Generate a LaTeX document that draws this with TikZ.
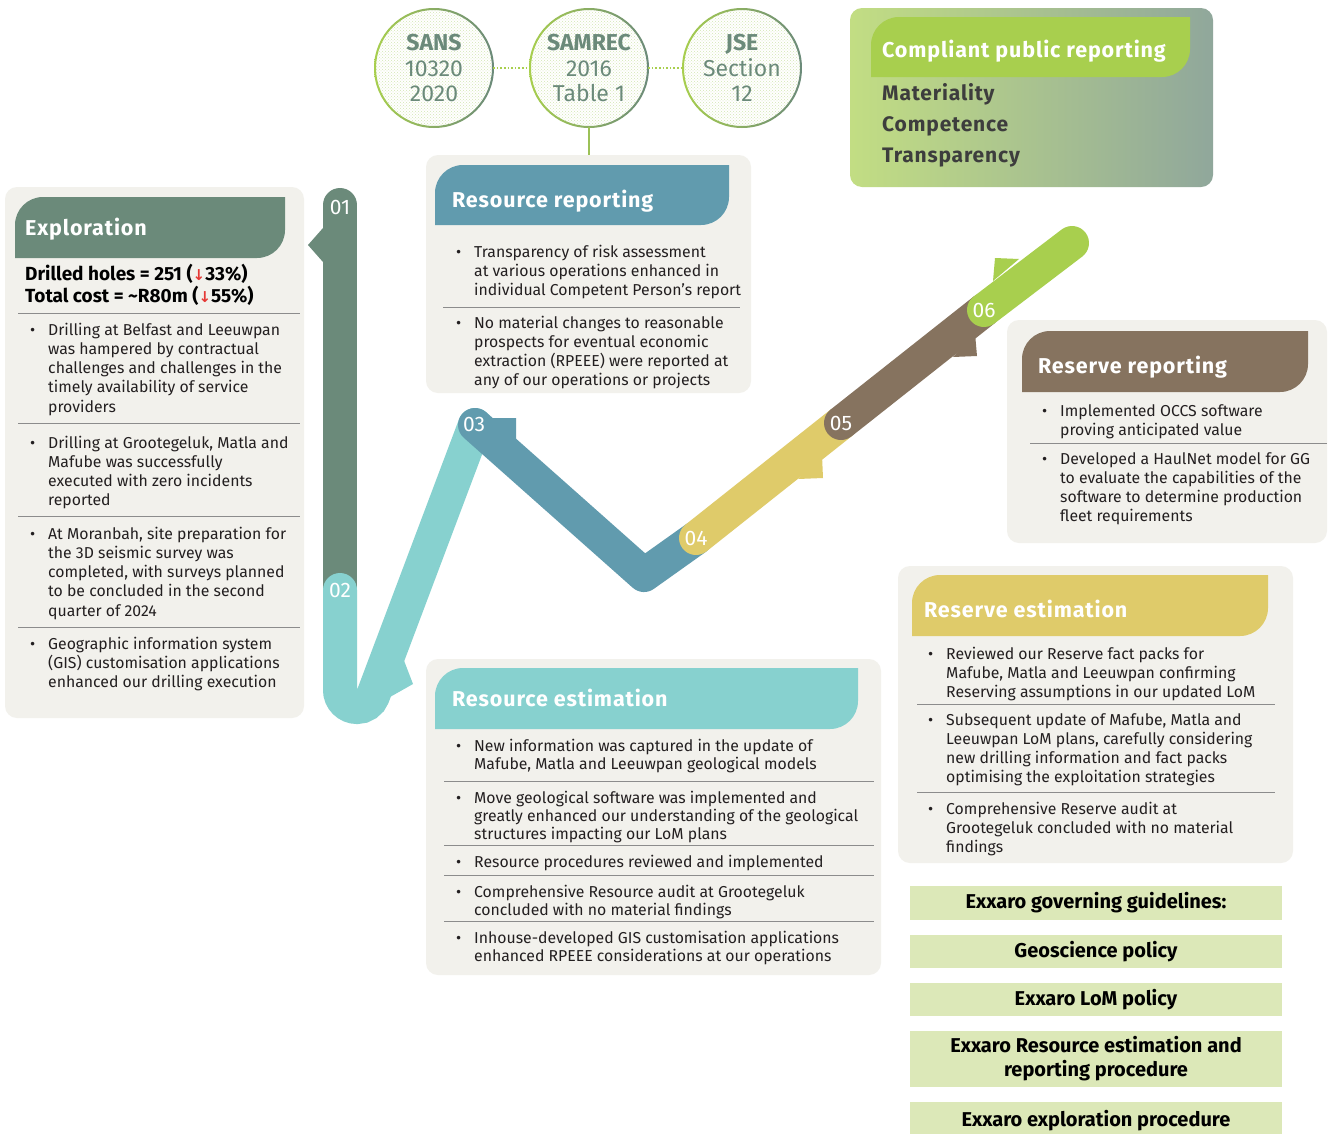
\documentclass[tikz,border=0pt]{standalone}
\usepackage{fontspec}
\setmainfont{Fira Sans}
\newfontfamily\headfont[LetterSpace=4]{Fira Sans}
\newfontfamily\arrowfont{DejaVu Sans}
\usetikzlibrary{patterns}

\definecolor{panelbg}{HTML}{F2F1EC}
\definecolor{exgreen}{HTML}{6B8A7A}
\definecolor{steel}{HTML}{619BAE}
\definecolor{aqua}{HTML}{87D1CF}
\definecolor{mustard}{HTML}{DFCB6A}
\definecolor{umber}{HTML}{86735F}
\definecolor{lime}{HTML}{A8CF4E}
\definecolor{guidefill}{HTML}{DCE8B8}
\definecolor{rulegrey}{HTML}{8C8C8C}
\definecolor{bodytext}{HTML}{231F20}
\definecolor{listgrey}{HTML}{3D3D3D}
\definecolor{sealdot}{HTML}{D3E6B3}
\definecolor{downred}{HTML}{E53935}

\newcommand{\bul}{\llap{\textbullet\hspace{13pt}}}
\newcommand{\down}{{\arrowfont\bfseries\color{downred}\fontsize{15}{15}\selectfont ↓}}
\newcommand{\lines}[1]{\begin{tabular}[t]{@{}l@{}}#1\end{tabular}}

\begin{document}
\begin{tikzpicture}[x=1pt, y=-1pt,
  panel/.style={fill=panelbg, rounded corners=12pt},
  rule/.style={draw=rulegrey, line width=1pt},
  title/.style={anchor=base west, inner sep=0pt, text=white, font=\headfont\fontsize{21.5}{24}\selectfont\bfseries},
  item/.style={anchor=base west, inner sep=0pt, text=bodytext, font=\fontsize{15.8}{19.3}\selectfont},
  seg/.style={line width=34pt, line cap=round},
  stepnum/.style={inner sep=0pt, text=white, font=\fontsize{21}{22}\selectfont},
  seal/.style={circle, minimum size=118pt, inner sep=0pt, fill=white, align=center, text=exgreen, font=\fontsize{23}{25.5}\selectfont},
  guide/.style={fill=guidefill, minimum width=372pt, inner sep=0pt, align=center, text=black, font=\fontsize{20}{24}\selectfont\bfseries}]

\useasboundingbox (0,0) rectangle (1331,1133);
\fill[white] (0,0) rectangle (1331,1133);

% standards
\node[seal] (sans) at (434,68) {};
\node[seal] (samrec) at (589,68) {};
\node[seal] (jse) at (742,68) {};
\fill[pattern=crosshatch dots, pattern color=sealdot] (sans.center) circle[radius=58];
\fill[pattern=crosshatch dots, pattern color=sealdot] (samrec.center) circle[radius=58];
\fill[pattern=crosshatch dots, pattern color=sealdot] (jse.center) circle[radius=58];
\node[seal, fill=none] (sanstext) at (sans) {\textbf{SANS}\\10320\\2020};
\node[seal, fill=none] (samrectext) at (samrec) {\textbf{SAMREC}\\2016\\Table 1};
\node[seal, fill=none] (jsetext) at (jse) {\textbf{JSE}\\Section\\12};
\shade[left color=lime, right color=exgreen, even odd rule] (sans.center) circle[radius=60] circle[radius=58];
\shade[left color=lime, right color=exgreen, even odd rule] (samrec.center) circle[radius=60] circle[radius=58];
\shade[left color=lime, right color=exgreen, even odd rule] (jse.center) circle[radius=60] circle[radius=58];
\draw[lime, line width=1.6pt, dotted] (sans) -- (samrec);
\draw[lime, line width=1.6pt, dotted] (samrec) -- (jse);
\coordinate (rreptop) at (589,155);
\draw[lime!80!exgreen, line width=1.6pt] (samrec.south) -- (rreptop);

% compliant public reporting
\shade[left color=lime!70!white, right color=exgreen!75!white, rounded corners=12pt] (850,8) rectangle (1213,187);
\fill[lime] (871,77) -- (871,45) arc[start angle=180, end angle=270, radius=28] -- (1190,17) -- (1190,49) arc[start angle=0, end angle=90, radius=28] -- cycle;
\node[title] (cpr) at (882,57) {Compliant public reporting};
\node[anchor=base west, inner sep=0pt, text=listgrey, font=\headfont\fontsize{21}{31}\selectfont\bfseries] (cprlist) at (882,100) {\lines{Materiality\\Competence\\Transparency}};

% Exploration
\fill[panel] (5,187) rectangle (304,718);
\fill[exgreen] (15,258) -- (15,225) arc[start angle=180, end angle=270, radius=28] -- (285,197) -- (285,230) arc[start angle=0, end angle=90, radius=28] -- cycle;
\node[title] (expl) at (25,235) {Exploration};
\node[anchor=base west, inner sep=0pt, text=black, font=\fontsize{19}{22}\selectfont\bfseries] (stats) at (25,280) {\lines{Drilled holes = 251 (\down33\%)\\Total cost = \textasciitilde R80m (\down55\%)}};
\draw[rule] (18,313) -- (300,313);
\draw[rule] (18,423) -- (300,423);
\draw[rule] (18,516) -- (300,516);
\draw[rule] (18,627) -- (300,627);
\node[item] (expa) at (48,335) {\lines{\bul Drilling at Belfast and Leeuwpan\\was hampered by contractual\\challenges and challenges in the\\timely availability of service\\providers}};
\node[item] (expb) at (48,448) {\lines{\bul Drilling at Grootegeluk, Matla and\\Mafube was successfully\\executed with zero incidents\\reported}};
\node[item] (expc) at (48,539) {\lines{\bul At Moranbah, site preparation for\\the 3D seismic survey was\\completed, with surveys planned\\to be concluded in the second\\quarter of 2024}};
\node[item] (expd) at (48,649) {\lines{\bul Geographic information system\\(GIS) customisation applications\\enhanced our drilling execution}};

% Resource reporting
\fill[panel] (426,155) rectangle (751,393);
\fill[steel] (435,225) -- (435,193) arc[start angle=180, end angle=270, radius=28] -- (729,165) -- (729,197) arc[start angle=0, end angle=90, radius=28] -- cycle;
\node[title] (rrep) at (452,207) {Resource reporting};
\draw[rule] (443,307) -- (740,307);
\node[item] (rrepa) at (474,257) {\lines{\bul Transparency of risk assessment\\at various operations enhanced in\\individual Competent Person’s report}};
\node[item] (rrepb) at (474,328) {\lines{\bul No material changes to reasonable\\prospects for eventual economic\\extraction (RPEEE) were reported at\\any of our operations or projects}};

% Resource estimation
\fill[panel] (426,659) rectangle (881,975);
\fill[aqua] (435,729) -- (435,696) arc[start angle=180, end angle=270, radius=28] -- (858,668) -- (858,701) arc[start angle=0, end angle=90, radius=28] -- cycle;
\node[title] (rest) at (452,706) {Resource estimation};
\draw[rule] (444,781) -- (874,781);
\draw[rule] (444,845) -- (874,845);
\draw[rule] (444,875) -- (874,875);
\draw[rule] (444,921) -- (874,921);
\node[item, font=\fontsize{15.8}{18.3}\selectfont] (resta) at (474,751) {\lines{\bul New information was captured in the update of\\Mafube, Matla and Leeuwpan geological models}};
\node[item, font=\fontsize{15.8}{18.3}\selectfont] (restb) at (474,803) {\lines{\bul Move geological software was implemented and\\greatly enhanced our understanding of the geological\\structures impacting our LoM plans}};
\node[item, font=\fontsize{15.8}{18.3}\selectfont] (restc) at (474,867) {\lines{\bul Resource procedures reviewed and implemented}};
\node[item, font=\fontsize{15.8}{18.3}\selectfont] (restd) at (474,897) {\lines{\bul Comprehensive Resource audit at Grootegeluk\\concluded with no material findings}};
\node[item, font=\fontsize{15.8}{18.3}\selectfont] (reste) at (474,943) {\lines{\bul Inhouse-developed GIS customisation applications\\enhanced RPEEE considerations at our operations}};

% Reserve reporting
\fill[panel] (1007,320) rectangle (1327,543);
\fill[umber] (1022,392) -- (1022,359) arc[start angle=180, end angle=270, radius=28] -- (1308,331) -- (1308,364) arc[start angle=0, end angle=90, radius=28] -- cycle;
\node[title] (vrep) at (1038,373) {Reserve reporting};
\draw[rule] (1030,443) -- (1327,443);
\node[item] (vrepa) at (1060,416) {\lines{\bul Implemented OCCS software\\proving anticipated value}};
\node[item] (vrepb) at (1060,464) {\lines{\bul Developed a HaulNet model for GG\\to evaluate the capabilities of the\\software to determine production\\fleet requirements}};

% Reserve estimation
\fill[panel] (898,566) rectangle (1293,863);
\fill[mustard] (912,636) -- (912,603) arc[start angle=180, end angle=270, radius=28] -- (1268,575) -- (1268,608) arc[start angle=0, end angle=90, radius=28] -- cycle;
\node[title] (vest) at (924,617) {Reserve estimation};
\draw[rule] (917,704) -- (1275,704);
\draw[rule] (917,792) -- (1275,792);
\node[item] (vesta) at (946,659) {\lines{\bul Reviewed our Reserve fact packs for\\Mafube, Matla and Leeuwpan confirming\\Reserving assumptions in our updated LoM}};
\node[item] (vestb) at (946,725) {\lines{\bul Subsequent update of Mafube, Matla and\\Leeuwpan LoM plans, carefully considering\\new drilling information and fact packs\\optimising the exploitation strategies}};
\node[item] (vestc) at (946,814) {\lines{\bul Comprehensive Reserve audit at\\Grootegeluk concluded with no material\\findings}};

% governing guidelines
\node[guide, minimum height=34pt] (guidehead) at (1096,903) {Exxaro governing guidelines:};
\node[guide, minimum height=33pt] (geopol) at (1096,951.5) {Geoscience policy};
\node[guide, minimum height=33pt] (lompol) at (1096,999.5) {Exxaro LoM policy};
\node[guide, minimum height=56pt] (estproc) at (1096,1059) {Exxaro Resource estimation and\\reporting procedure};
\node[guide, minimum height=38pt] (expproc) at (1096,1121) {Exxaro exploration procedure};

% 01: exploration
\draw[seg, exgreen] (340,205) -- (340,590);
\fill[exgreen] (323,228) -- (308,245) -- (323,262) -- cycle;
% 02: resource estimation
\draw[seg, aqua] (340,590) -- (340,690) arc[start angle=180, end angle=21, radius=17] -- (475,425);
\fill[aqua] (403,658) -- (413,684) -- (390,697) -- cycle;
% 03: resource reporting
\draw[seg, steel, line join=round] (475,425) -- (644,575) -- (696,538);
\fill[steel] (490,418) -- (516,418) -- (516,443) -- cycle;
% 04: reserve estimation
\draw[seg, mustard] (696,538) -- (841,423);
\fill[mustard] (822,455) -- (823,478) -- (798,479) -- cycle;
% 05: reserve reporting
\draw[seg, umber] (841,423) -- (984,310);
\fill[umber] (975,333) -- (977,356) -- (953,357) -- cycle;
% 06: compliant public reporting
\draw[seg, lime] (984,310) -- (1072,243);
\fill[lime] (993,281) -- (995,258) -- (1019,259) -- cycle;

\node[stepnum] (n01) at (340,207) {01};
\node[stepnum] (n02) at (340,590) {02};
\node[stepnum] (n03) at (474,424) {03};
\node[stepnum] (n04) at (696,538) {04};
\node[stepnum] (n05) at (841,423) {05};
\node[stepnum] (n06) at (984,310) {06};

\end{tikzpicture}
\end{document}
